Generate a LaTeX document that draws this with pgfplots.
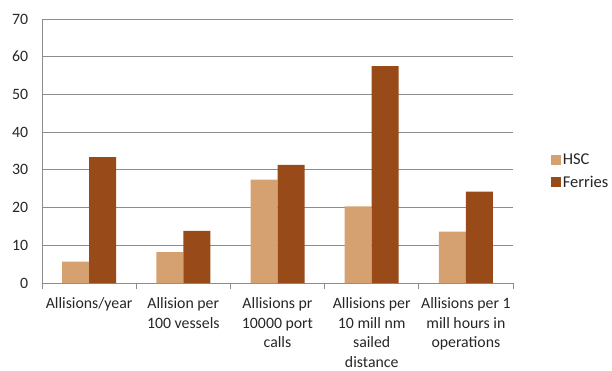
\documentclass[border=0pt]{standalone}
\usepackage{pgfplots}
\pgfplotsset{compat=1.18}
\usepackage{fontspec}
\setmainfont{Carlito}
\definecolor{hsc}{RGB}{214,161,112}
\definecolor{ferries}{RGB}{152,74,24}
\definecolor{gridgray}{RGB}{140,140,140}
\begin{document}
\begin{tikzpicture}
\begin{axis}[
  at={(0,0)}, anchor=south west,
  scale only axis,
  width=471bp, height=264bp,
  ybar=0pt, bar width=27bp,
  xmin=-0.5, xmax=4.5,
  ymin=0, ymax=70,
  ytick={0,10,...,70},
  ymajorgrids,
  grid style={gridgray, line width=0.8pt},
  axis x line*=bottom,
  axis y line*=left,
  axis line style={gridgray, line width=0.8pt},
  xtick={0,1,2,3,4},
  xticklabels={Allisions/year,
    Allision per\\100 vessels,
    Allisions pr\\10000 port\\calls,
    Allisions per\\10 mill nm\\sailed\\distance,
    Allisions per 1\\mill hours in\\operations},
  xticklabel style={align=center, yshift=-7bp,
    font=\fontsize{15.8bp}{19.5bp}\selectfont},
  major x tick style={draw=none},
  minor xtick={-0.5,0.5,1.5,2.5,3.5,4.5},
  minor x tick style={gridgray, line width=0.8pt},
  minor tick length=6bp,
  tick align=outside,
  major y tick style={draw=none},
  yticklabel style={xshift=-6bp, font=\fontsize{15.8bp}{19.5bp}\selectfont},
  tick label style={text=black!85},
  /pgf/number format/assume math mode=true,
  legend style={at={(rel axis cs:1.08,0.424)}, anchor=west, draw=none,
    font=\fontsize{16.5bp}{19.5bp}\selectfont, text=black!85,
    row sep=6bp, inner sep=0pt},
  legend cell align=left,
  legend image code/.code={\fill[#1] (0bp,-5bp) rectangle (10bp,5bp);},
]
\addplot[fill=hsc, draw=none] coordinates {(0,5.7) (1,8.2) (2,27.4) (3,20.3) (4,13.6)};
\addplot[fill=ferries, draw=none] coordinates {(0,33.4) (1,13.8) (2,31.3) (3,57.5) (4,24.2)};
\legend{HSC, Ferries}
\end{axis}
\useasboundingbox (-42bp,-84bp) rectangle (570bp,283bp);
\end{tikzpicture}
\end{document}
